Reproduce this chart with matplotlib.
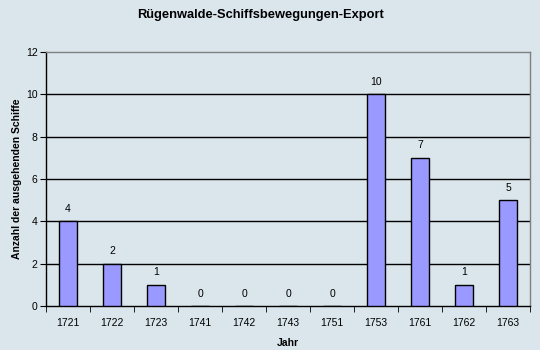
import matplotlib
matplotlib.use("Agg")
import matplotlib.pyplot as plt
import numpy as np

plt.rcParams['font.family'] = ['Liberation Sans', 'DejaVu Sans']

years = ["1721", "1722", "1723", "1741", "1742", "1743", "1751", "1753", "1761", "1762", "1763"]
ships = [4, 2, 1, 0, 0, 0, 0, 10, 7, 1, 5]
yticks = [0, 2, 4, 6, 8, 10, 12]

bg = "#DAE5EC"
fig = plt.figure(figsize=(5.4, 3.5), dpi=100, facecolor=bg)
ax = fig.add_axes([46/540, 1-306/350, 484/540, 254/350], facecolor=bg)

x = np.arange(len(years))
ax.bar(x, ships, width=0.39, color="#9999FF", edgecolor="black", linewidth=1, zorder=3)
for xi, v in zip(x, ships):
    ax.text(xi, v + 0.35, str(v), ha="center", va="bottom", fontsize=7.5, color="black")

ax.set_xlim(-0.5, len(years) - 0.5)
ax.set_ylim(0, 12)
ax.set_yticks(yticks)
ax.set_yticklabels([str(t) for t in yticks], fontsize=7.5)
for t in yticks[1:-1]:
    ax.axhline(t, color="black", linewidth=1, zorder=1)

ax.set_xticks(x)
ax.set_xticklabels(years, fontsize=7.5)
ax.tick_params(axis="x", length=0, pad=9)
ax.set_xticks(np.arange(-0.5, len(years)), minor=True)
ax.tick_params(axis="x", which="minor", length=4, direction="out", color="black")
ax.tick_params(axis="y", length=4, direction="out", color="black", pad=2)

ax.spines["top"].set_color("#808080")
ax.spines["right"].set_color("#808080")
ax.spines["left"].set_color("black")
ax.spines["bottom"].set_color("black")
for s in ax.spines.values():
    s.set_linewidth(1)

fig.text(260/540, 1-15/350, "Rügenwalde-Schiffsbewegungen-Export", ha="center", va="center",
         fontsize=9.3, fontweight="bold")
ax.set_xlabel("Jahr", fontsize=7.5, fontweight="bold", labelpad=7)
ax.set_ylabel("Anzahl der ausgehenden Schiffe", fontsize=7.5, fontweight="bold", labelpad=3)

fig.savefig("out.png", dpi=100, facecolor=bg)
